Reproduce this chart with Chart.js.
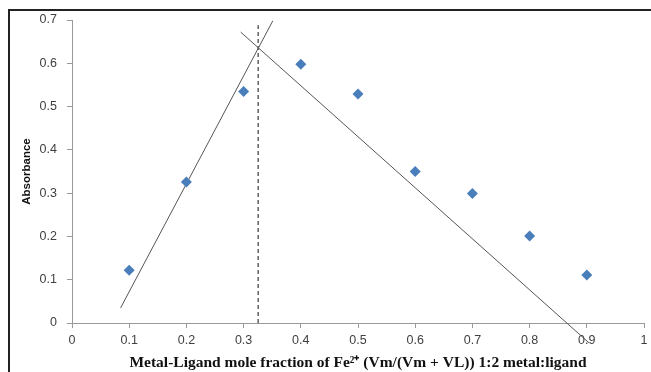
<!DOCTYPE html>
<html>
<head>
<meta charset="utf-8">
<script src="https://cdn.jsdelivr.net/npm/chart.js@4"></script>
<style>
  body { margin: 0; background: #fff; }
  #wrap { position: relative; width: 651px; height: 372px; overflow: hidden; }
  #frame { position: absolute; left: 8px; top: 9px; width: 700px; height: 400px;
           border-top: 2px solid #222; border-left: 2px solid #222; pointer-events: none; }
</style>
</head>
<body>
<div id="wrap">
  <canvas id="job" width="651" height="372"></canvas>
  <div id="frame"></div>
</div>
<script>
const mole_fraction = [0.1, 0.2, 0.3, 0.4, 0.5, 0.6, 0.7, 0.8, 0.9];
const absorbance = [0.122, 0.326, 0.535, 0.598, 0.529, 0.350, 0.299, 0.201, 0.111];

// hand drawn tangent lines
const rise_x = [0.085, 0.351];
const rise_y = [0.035, 0.698];
const fall_x = [0.295, 0.904];
const fall_y = [0.672, -0.046];
const cross_x = [0.3254, 0.3254];
const cross_y = [0, 0.688];

const pairs = (xs, ys) => xs.map((x, i) => ({ x: x, y: ys[i] }));
const tick_text = (v) => String(Number(v.toFixed(1)));

const job = document.getElementById('job');

new Chart(job, {
  type: 'scatter',
  data: {
    datasets: [{
      data: pairs(mole_fraction, absorbance),
      pointStyle: 'rectRot',
      pointRadius: 5.5,
      pointBackgroundColor: '#4a7ebb',
      pointBorderColor: '#4a7ebb',
      pointBorderWidth: 0
    }, {
      data: pairs(rise_x, rise_y),
      showLine: true,
      borderColor: '#555',
      borderWidth: 1,
      pointRadius: 0,
      clip: false
    }, {
      data: pairs(fall_x, fall_y),
      showLine: true,
      borderColor: '#555',
      borderWidth: 1,
      pointRadius: 0,
      clip: false
    }, {
      data: pairs(cross_x, cross_y),
      showLine: true,
      borderColor: '#111',
      borderWidth: 1,
      borderDash: [4, 3],
      pointRadius: 0,
      clip: false
    }]
  },
  options: {
    responsive: false,
    animation: false,
    layout: { padding: { top: 20, right: 7, left: 0, bottom: 0 } },
    plugins: { legend: { display: false }, tooltip: { enabled: false } },
    scales: {
      x: {
        type: 'linear',
        min: 0, max: 1,
        afterFit: (s) => { s.height = 49; s.paddingRight = 0; s.paddingLeft = 0; },
        border: { color: '#999' },
        grid: { drawOnChartArea: false, tickLength: 5, color: '#999' },
        ticks: { stepSize: 0.1, padding: 5, color: '#404040', callback: tick_text,
                 font: { family: 'Liberation Sans', size: 12.5 } },
        title: {
          display: true,
          text: 'Metal-Ligand mole fraction of Fe\u00b2\u207a (Vm/(Vm + VL)) 1:2 metal:ligand',
          color: '#111',
          padding: { top: 0, bottom: 0 },
          font: { family: 'Liberation Serif', size: 15.5, weight: 'bold' }
        }
      },
      y: {
        min: 0, max: 0.7,
        afterFit: (s) => { s.width = 72; },
        border: { color: '#999' },
        grid: { drawOnChartArea: false, tickLength: 5, color: '#999' },
        ticks: { stepSize: 0.1, padding: 10, color: '#404040', callback: tick_text,
                 font: { family: 'Liberation Sans', size: 12.5 } },
        title: {
          display: true,
          text: 'Absorbance',
          color: '#111',
          padding: { top: 20, bottom: 0 },
          font: { family: 'Liberation Sans', size: 11.5, weight: 'bold' }
        }
      }
    }
  }
});
</script>
</body>
</html>
